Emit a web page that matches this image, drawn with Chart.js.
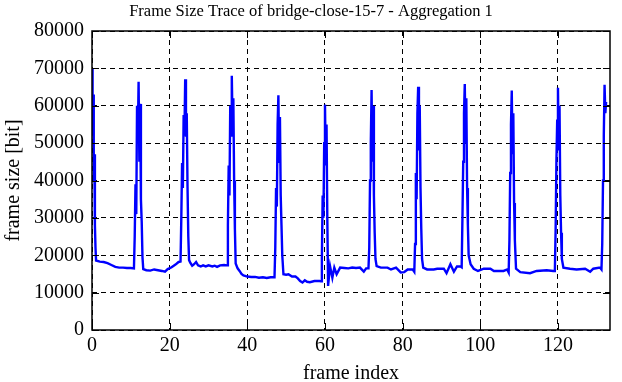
<!DOCTYPE html>
<html>
<head>
<meta charset="utf-8">
<script src="https://cdn.jsdelivr.net/npm/chart.js@4.4.1/dist/chart.umd.min.js"></script>
<style>
  html, body { margin: 0; padding: 0; background: #fff; }
  canvas { display: block; }
</style>
</head>
<body>
<canvas id="c" width="622" height="382"></canvas>
<script>
// ---- data ----
const chartTitle = "Frame Size Trace of bridge-close-15-7 - Aggregation 1";
const xTitle = "frame index";
const yTitle = "frame size [bit]";
const xMin = 0, xMax = 133.4;
const yMin = 0, yMax = 80000;
const xTickValues = [0, 20, 40, 60, 80, 100, 120];
const yTickValues = [0, 10000, 20000, 30000, 40000, 50000, 60000, 70000, 80000];

const frameIndex = [
  0, 0.15, 0.3, 0.45, 0.6, 0.75, 0.9, 1.05,
  2, 3, 4, 5, 6, 7, 8, 9, 10, 10.8,
  11.0, 11.2, 11.4, 11.6, 11.8, 12.0, 12.2, 12.4, 12.6, 12.8, 13.0, 13.2,
  14, 15, 16, 17, 18, 18.8, 19.5, 20.5, 21.5, 22.3, 22.8,
  23.0, 23.2, 23.4, 23.6, 23.8, 24.0, 24.2, 24.4, 24.6, 24.8, 25.0,
  25.3, 25.8, 26.3, 26.8, 27.3, 28, 28.6, 29.3, 30, 31, 31.6, 32.2, 33, 34, 34.8,
  35.0, 35.2, 35.4, 35.6, 35.8, 36.0, 36.2, 36.4, 36.6, 36.8, 37.0,
  37.5, 38, 38.5, 39, 40, 41, 42, 43, 44, 45, 46, 47,
  47.2, 47.4, 47.6, 47.8, 48.0, 48.2, 48.4, 48.6, 48.8, 49.0, 49.3,
  50, 50.6, 51.5, 52.4, 53, 53.6, 54.2, 54.8, 55.4, 56.1, 57.3, 58.6, 59.0,
  59.2, 59.4, 59.6, 59.8, 60.0, 60.2, 60.4, 60.6, 60.8,
  61.3, 61.9, 62.4, 63.0, 63.9, 65, 66, 67, 68, 69, 70, 70.6, 71.2,
  71.4, 71.6, 71.8, 72.0, 72.2, 72.4, 72.6, 72.8, 73.0, 73.3,
  74.4, 76.1, 77, 78.3, 79.5, 80.4, 81.3, 82.6, 83.0,
  83.2, 83.4, 83.6, 83.8, 84.0, 84.2, 84.4, 84.6, 84.8, 85.0, 85.3,
  86.3, 88, 88.9, 90.6, 91.3, 92.3, 93.2, 94, 94.9, 95.2,
  95.4, 95.6, 95.8, 96.0, 96.2, 96.4, 96.6, 96.8, 97.0, 97.5,
  98.3, 99.4, 100.9, 102.6, 103.5, 106, 106.9, 107.3,
  107.5, 107.7, 107.9, 108.1, 108.3, 108.5, 108.7, 108.9, 109.2,
  110.3, 112.8, 114.5, 117.1, 118.8, 119.2,
  119.4, 119.6, 119.8, 120.0, 120.2, 120.4, 120.6, 120.8, 121.0, 121.4,
  123.1, 124.8, 127, 128.3, 129.1, 130.8, 131.2,
  131.4, 131.6, 131.8, 132.0, 132.2, 132.4
];

const frameSize = [
  70000, 52000, 63000, 40000, 47000, 28000, 22000, 18600,
  18300, 18200, 17900, 17400, 16900, 16700, 16700, 16600, 16600, 16500,
  25000, 39000, 31000, 60000, 52000, 66400, 45000, 60500, 35000, 29000, 19500, 16300,
  16000, 15900, 16200, 16000, 15800, 15600, 16300, 16800, 17500, 18200, 18300,
  30000, 44700, 38000, 57500, 52000, 67100, 51700, 58000, 38300, 25000, 18700,
  18000, 17200, 17600, 18200, 17300, 17000, 17300, 17000, 17300, 17000, 17200, 16900, 17300, 17400, 17300,
  28000, 44000, 36000, 60000, 52000, 68000, 55000, 62000, 40000, 27000, 17800,
  16500, 15800, 15000, 14600, 14300, 14200, 14200, 14000, 14100, 13900, 14100, 14100,
  22000, 38000, 33000, 55000, 62800, 45000, 57000, 36000, 28000, 20000, 14900,
  14800, 14900, 14300, 14300, 13800, 13100, 12700, 13300, 12900, 12800, 13100, 13100, 13000,
  19000, 36000, 30000, 50000, 60300, 44000, 55000, 30000, 11800,
  17100, 14000, 16700, 14900, 16700, 16600, 16500, 16700, 16600, 16700, 15600, 16500, 16500,
  22000, 40000, 50000, 64200, 45000, 60000, 36000, 26000, 19000, 17100,
  16700, 16700, 16200, 16700, 15400, 15500, 16200, 16200, 15600,
  23000, 42000, 35000, 58000, 65100, 48000, 60000, 38000, 27000, 19000, 16700,
  16200, 16200, 16400, 16400, 15200, 17600, 15600, 17000, 17000, 16800,
  30000, 45000, 58000, 65800, 50000, 62000, 38000, 28000, 20000, 17600,
  16400, 15800, 16400, 16400, 15800, 15800, 16200, 15400,
  24000, 42000, 55000, 64100, 47000, 58000, 34000, 24000, 16400,
  15500, 15200, 15800, 16000, 15800, 15800,
  27000, 45000, 56000, 64800, 48000, 60000, 36000, 26000, 19000, 16700,
  16400, 16200, 16400, 15600, 16400, 16700, 16200,
  23000, 40000, 52000, 65600, 58000, 61000
];

// ---- chart ----
const FONT = "'Liberation Serif', 'DejaVu Serif', serif";
const LABEL_SIZE = 20;

const gnuplotFrame = {
  id: 'gnuplotFrame',
  afterDatasetsDraw(chart) {
    const { ctx, chartArea: a, scales } = chart;
    const tick = 7;
    ctx.save();
    ctx.strokeStyle = '#000';
    ctx.lineWidth = 1;
    ctx.beginPath();
    scales.x.ticks.forEach(t => {
      const px = Math.round(scales.x.getPixelForValue(t.value)) + 0.5;
      ctx.moveTo(px, a.bottom); ctx.lineTo(px, a.bottom - tick);
      ctx.moveTo(px, a.top); ctx.lineTo(px, a.top + tick);
    });
    scales.y.ticks.forEach(t => {
      const py = Math.round(scales.y.getPixelForValue(t.value)) + 0.5;
      ctx.moveTo(a.left, py); ctx.lineTo(a.left + tick, py);
      ctx.moveTo(a.right, py); ctx.lineTo(a.right - tick, py);
    });
    ctx.stroke();
    ctx.lineWidth = 1.5;
    ctx.strokeRect(a.left, a.top, a.right - a.left, a.bottom - a.top);
    ctx.restore();
  }
};

new Chart(document.getElementById('c'), {
  type: 'line',
  data: {
    datasets: [{
      data: frameIndex.map((x, i) => ({ x: x, y: frameSize[i] })),
      borderColor: '#0000ff',
      borderWidth: 2.4,
      pointRadius: 0,
      tension: 0,
      fill: false
    }]
  },
  options: {
    responsive: false,
    animation: false,
    events: [],
    layout: { padding: { left: 0, right: 0, top: 0, bottom: 0 } },
    plugins: {
      legend: { display: false },
      tooltip: { enabled: false },
      title: {
        display: true,
        text: chartTitle,
        color: '#000',
        font: { family: FONT, size: 16.5, weight: 'normal' },
        padding: { top: 2, bottom: 9.2 }
      }
    },
    scales: {
      x: {
        type: 'linear',
        min: xMin, max: xMax,
        afterBuildTicks(scale) {
          scale.ticks = xTickValues.map(v => ({ value: v }));
        },
        afterFit(scale) { scale.height = 52; },
        ticks: {
          color: '#000', autoSkip: false, maxRotation: 0,
          padding: 4,
          font: { family: FONT, size: LABEL_SIZE },
          callback: v => String(v)
        },
        grid: { color: '#000', lineWidth: 1, drawTicks: false },
        border: { display: false, dash: [5, 4] },
        title: {
          display: true, text: xTitle, color: '#000',
          font: { family: FONT, size: LABEL_SIZE },
          padding: { top: 0, bottom: -4 }
        }
      },
      y: {
        min: yMin, max: yMax,
        afterBuildTicks(scale) {
          scale.ticks = yTickValues.map(v => ({ value: v }));
        },
        afterFit(scale) { scale.width = 92; },
        ticks: {
          color: '#000', padding: 8,
          font: { family: FONT, size: LABEL_SIZE },
          callback: v => String(v)
        },
        grid: { color: '#000', lineWidth: 1, drawTicks: false },
        border: { display: false, dash: [5, 4] },
        title: {
          display: true, text: yTitle, color: '#000',
          font: { family: FONT, size: LABEL_SIZE },
          padding: { top: 2, bottom: 0 }
        }
      },
      yRight: {
        position: 'right',
        min: yMin, max: yMax,
        afterFit(scale) { scale.width = 12; },
        ticks: { display: false },
        grid: { display: false, drawTicks: false },
        border: { display: false }
      }
    }
  },
  plugins: [gnuplotFrame]
});
</script>
</body>
</html>
